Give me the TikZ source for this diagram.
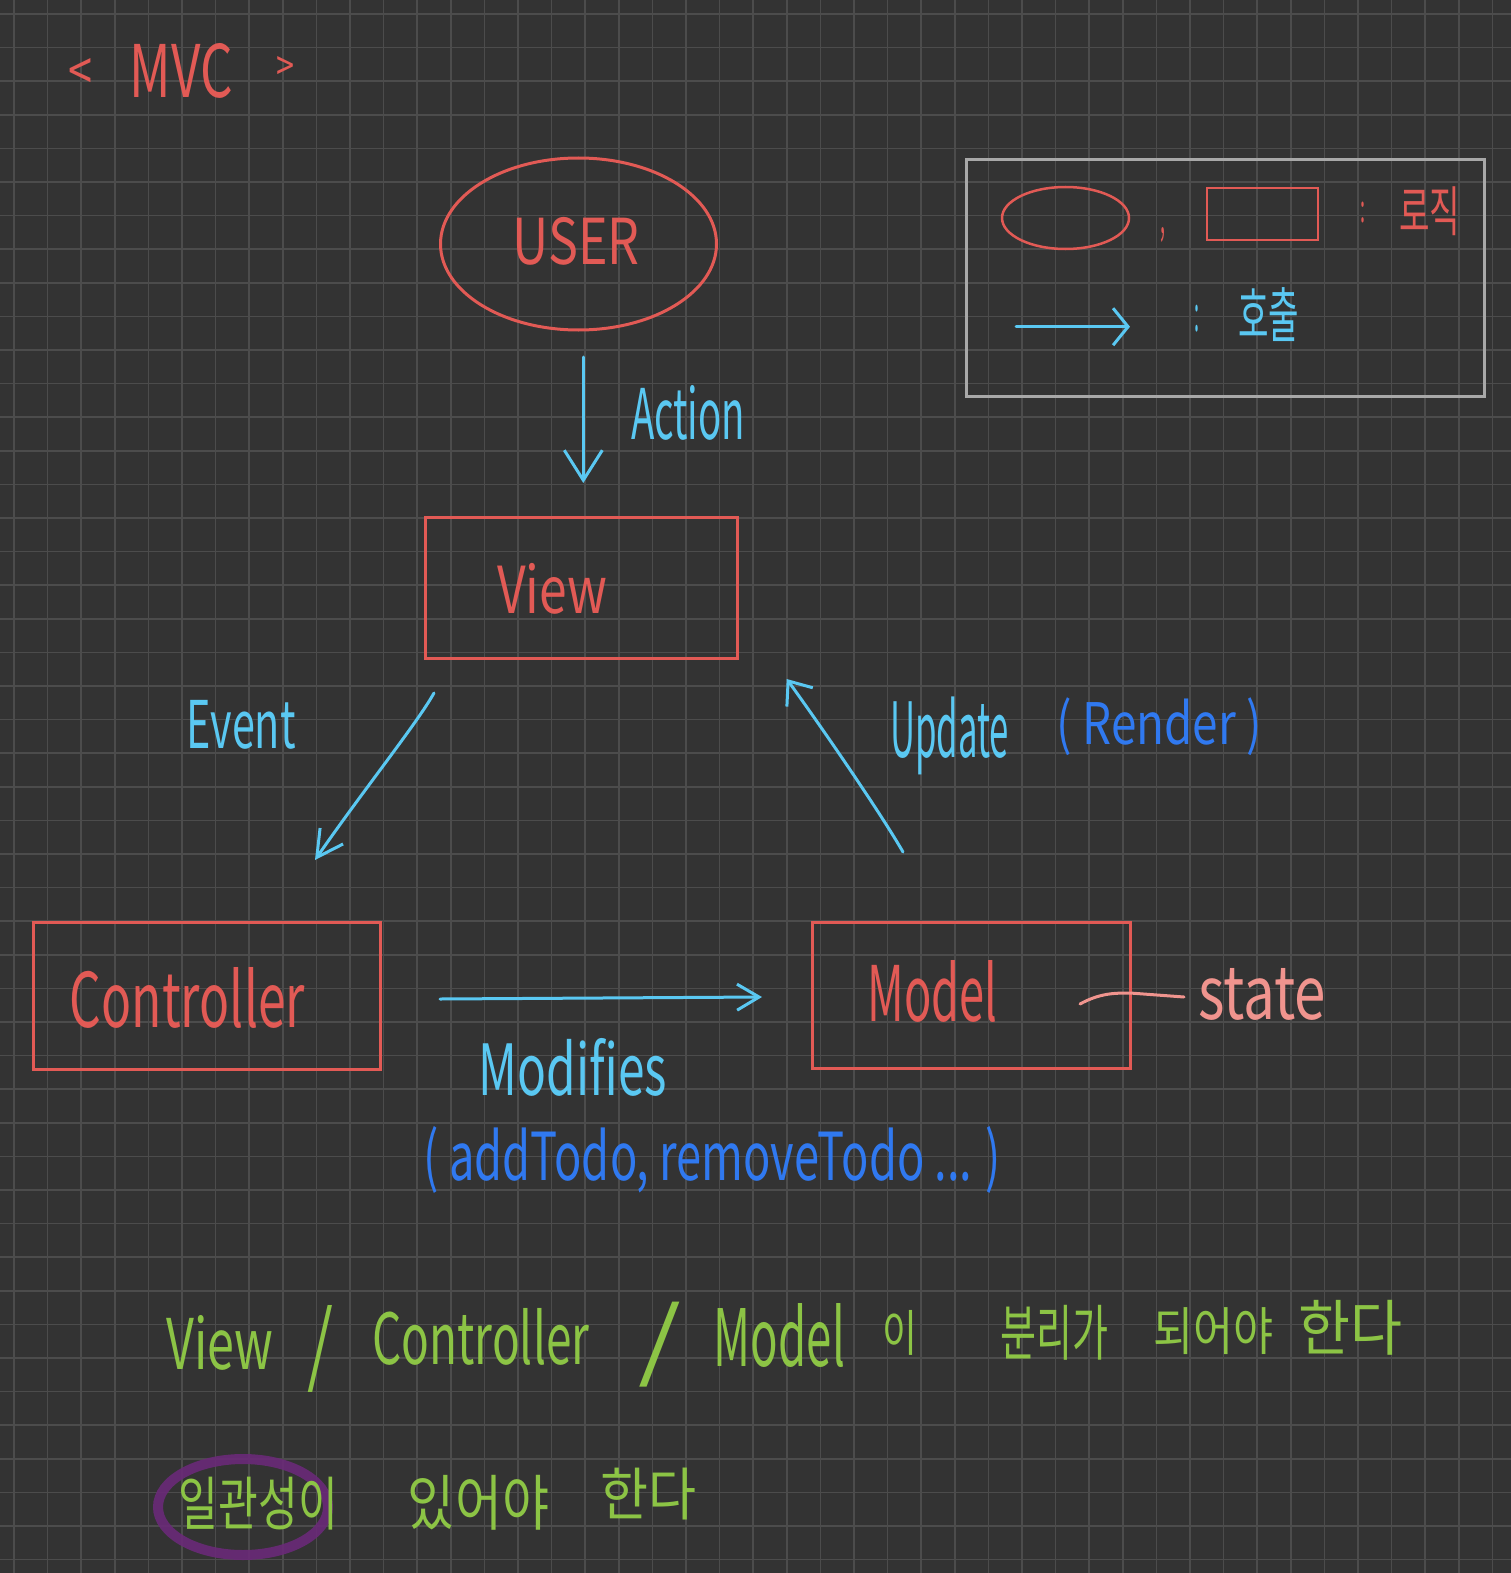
\documentclass[tikz,border=0pt]{standalone}
\usepackage{fontspec}
\setmainfont{Noto Sans CJK KR}
\usepackage{graphicx}
\usetikzlibrary{arrows.meta,shapes.geometric}
\definecolor{bgcol}{HTML}{333333}
\definecolor{gridcol}{HTML}{4C4C4C}
\definecolor{redink}{HTML}{E25A55}
\definecolor{cyanink}{HTML}{5AC8F2}
\definecolor{blueink}{HTML}{3079F0}
\definecolor{greenink}{HTML}{8CC445}
\definecolor{pinkink}{HTML}{F0948E}
\definecolor{legendgray}{HTML}{A8A8A8}
\definecolor{purpleink}{HTML}{6A2A78}
\newcommand{\fitbox}[3]{\resizebox*{#1pt}{#2pt}{#3}}
\tikzset{
  gridline/.style={draw=gridcol, line width=1.5pt},
  redbox/.style={draw=redink, line width=3pt, rectangle, inner sep=0pt},
  redoval/.style={draw=redink, line width=3pt, ellipse, inner sep=0pt},
  txt/.style={inner sep=0pt, anchor=center},
  callarrow/.style={draw=cyanink, line width=3pt, line cap=round, line join=round},
}
\begin{document}
\begin{tikzpicture}[x=1pt,y=-1pt]
\fill[bgcol] (0,0) rectangle (1511,1573);
\useasboundingbox (0,0) rectangle (1511,1573);
% grid
\foreach \i in {0,...,44} \draw[gridline] ({14+33.6*\i},0) -- ({14+33.6*\i},1573);
\foreach \j in {0,...,46} \draw[gridline] (0,{14+33.6*\j}) -- (1511,{14+33.6*\j});

% title
\node[txt, text=redink] (lt) at (81,74) {\fitbox{24}{32}{<}};
\node[txt, text=redink] (mvc) at (181.4,70.5) {\fitbox{103}{55}{MVC}};
\node[txt, text=redink] (gt) at (285,69) {\fitbox{18}{24}{>}};

% USER
\node[redoval, minimum width=276pt, minimum height=172pt] (user) at (578.5,244) {};
\node[txt, text=redink] (usertxt) at (576,241) {\fitbox{127}{48}{USER}};

% View
\node[redbox, minimum width=312pt, minimum height=141pt] (view) at (581.9,588.4) {};
\node[txt, text=redink] (viewtxt) at (552,588.5) {\fitbox{110}{51}{View}};

% Controller
\node[redbox, minimum width=347pt, minimum height=147pt] (ctrl) at (207,996.3) {};
\node[txt, text=redink] (ctrltxt) at (187.5,997.5) {\fitbox{235}{61}{Controller}};

% Model
\node[redbox, minimum width=318pt, minimum height=146pt] (model) at (971,995.9) {};
\node[txt, text=redink] (modeltxt) at (932.8,991.4) {\fitbox{130}{62}{Model}};
\node[txt, text=pinkink] (state) at (1262,994) {\fitbox{128}{52}{state}};
\coordinate (st1) at (1080,1004);
\coordinate (st2) at (1184,997);
\draw[draw=pinkink, line width=3pt, line cap=round] (st1) .. controls (1100,993) and (1115,993) .. (1130,993) -- (st2);

% Action arrow
\coordinate (act1) at (583.3,357);
\coordinate (act2) at (583.3,483);
\draw[callarrow, -{Straight Barb[length=30pt,width=38pt]}] (act1) -- (act2);
\node[txt, text=cyanink] (action) at (688,412.5) {\fitbox{114}{55}{Action}};

% Event arrow
\coordinate (ev1) at (434,693);
\coordinate (ev2) at (315,860);
\draw[callarrow, -{Straight Barb[length=26pt,width=28pt]}] (ev1) .. controls (418,722) and (362,792) .. (ev2);
\node[txt, text=cyanink] (event) at (241.3,724.5) {\fitbox{109}{49}{Event}};

% Update arrow
\coordinate (up1) at (903,852);
\coordinate (up2) at (786.7,679);
\draw[callarrow, -{Straight Barb[length=20pt,width=32pt]}] (up1) .. controls (880,812) and (820,725) .. (up2);
\node[txt, text=cyanink] (update) at (949.5,736) {\fitbox{119}{78}{Update}};
\node[txt, text=blueink] (render) at (1159.3,727) {\fitbox{205}{58}{( Render )}};

% Modifies arrow
\coordinate (mod1) at (440,999);
\coordinate (mod2) at (762,997);
\draw[callarrow, -{Straight Barb[length=22pt,width=26pt]}] (mod1) -- (mod2);
\node[txt, text=cyanink] (modifies) at (573,1067) {\fitbox{188}{58}{Modifies}};
\node[txt, text=blueink] (todos) at (712.5,1159.5) {\fitbox{577}{67}{( addTodo, removeTodo ... )}};

% legend
\node[draw=legendgray, line width=3pt, rectangle, inner sep=0pt, minimum width=518pt, minimum height=236.7pt] (legend) at (1225,278.35) {};
\node[redoval, line width=2.5pt, minimum width=127pt, minimum height=62pt] (legell) at (1065.5,218) {};
\node[txt, text=redink] (comma) at (1163,235.5) {\fitbox{5}{15}{,}};
\node[redbox, line width=2.5pt, minimum width=111pt, minimum height=52pt] (legrect) at (1262.5,213.9) {};
\node[txt, text=redink] (colon1) at (1363,212.5) {\fitbox{5}{21}{:}};
\node[txt, text=redink] (logic) at (1429.5,211.5) {\fitbox{61}{49}{로직}};
\coordinate (lg1) at (1016,326.7);
\coordinate (lg2) at (1130,326.7);
\draw[callarrow, -{Straight Barb[length=15pt,width=37pt]}] (lg1) -- (lg2);
\node[txt, text=cyanink] (colon2) at (1197,318.5) {\fitbox{5}{27}{:}};
\node[txt, text=cyanink] (call) at (1268.5,315) {\fitbox{61}{54}{호출}};

% bottom sentence 1
\node[txt, text=greenink] (w1) at (220.3,1342.5) {\fitbox{107}{55}{View}};
\node[txt, text=greenink] (s1) at (320.8,1348.5) {\fitbox{26}{87}{/}};
\node[txt, text=greenink] (w2) at (480.8,1336.5) {\fitbox{217}{57}{Controller}};
\node[txt, text=greenink] (s2) at (660.5,1344.5) {\fitbox{43}{85}{/}};
\node[txt, text=greenink] (w3) at (779.5,1335) {\fitbox{131}{64}{Model}};
\node[txt, text=greenink] (w4) at (899.5,1332.5) {\fitbox{35}{45}{이}};
\node[txt, text=greenink] (w5) at (1054,1332.5) {\fitbox{108}{55}{분리가}};
\node[txt, text=greenink] (w6) at (1213.3,1331.5) {\fitbox{120}{47}{되어야}};
\node[txt, text=greenink] (w7) at (1350,1327.5) {\fitbox{104}{55}{한다}};

% bottom sentence 2
\draw[draw=purpleink, line width=10pt, opacity=0.9] (243,1507) ellipse [x radius=85, y radius=48];
\node[txt, text=greenink] (v1) at (258.5,1503.5) {\fitbox{159}{53}{일관성이}};
\node[txt, text=greenink] (v2) at (478.5,1502.5) {\fitbox{141}{55}{있어야}};
\node[txt, text=greenink] (v3) at (648.8,1494) {\fitbox{96}{52}{한다}};
\end{tikzpicture}
\end{document}
